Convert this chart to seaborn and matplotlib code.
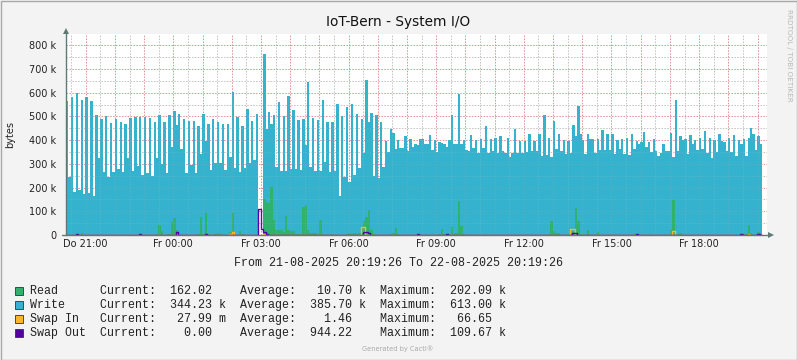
import numpy as np
import pandas as pd
import seaborn as sns
import matplotlib.pyplot as plt
from matplotlib.patches import Rectangle
from matplotlib.lines import Line2D

# 5 minute samples, first one at 21-08-2025 20:19:26, values in k bytes
write_k = [
    564, 246, 583, 183, 600, 190, 569, 175, 583, 178, 564, 166,
    505, 326, 489, 267, 500, 246, 473, 267, 489, 278, 476, 267,
    470, 326, 494, 271, 498, 292, 498, 254, 498, 262, 494, 248,
    476, 326, 505, 299, 476, 262, 505, 372, 524, 463, 510, 362,
    489, 262, 480, 295, 480, 262, 459, 342, 512, 396, 468, 274,
    489, 302, 476, 305, 468, 274, 468, 330, 602, 284, 498, 267,
    459, 284, 533, 302, 480, 316, 510, 262, np.nan, 765, 446, 519,
    470, 505, 288, 562, 271, 501, 271, 585, 278, 526, 280, 484,
    274, 489, 379, 646, 288, 494, 271, 484, 271, 569, 309, 476,
    267, 476, 271, 552, 166, 501, 246, 540, 225, 552, 253, 510,
    284, 490, 347, 653, 477, 515, 250, 505, 241, 476, 288, 397,
    351, 449, 430, 364, 400, 365, 365, 417, 354, 404, 372, 386,
    379, 404, 407, 383, 383, 421, 358, 400, 351, 393, 390, 386,
    372, 400, 505, 386, 383, 594, 386, 400, 358, 354, 424, 368,
    400, 344, 404, 369, 459, 347, 404, 354, 411, 344, 417, 354,
    348, 411, 330, 347, 449, 344, 396, 347, 396, 351, 425, 354,
    397, 354, 425, 333, 505, 337, 411, 330, 480, 362, 428, 354,
    400, 341, 397, 347, 463, 417, 543, 425, 400, 341, 428, 404,
    407, 347, 404, 358, 442, 358, 428, 358, 428, 341, 400, 362,
    407, 340, 411, 337, 428, 362, 396, 386, 393, 435, 372, 392,
    351, 403, 355, 334, 347, 383, 355, 354, 431, 330, 569, 354,
    417, 400, 403, 341, 421, 386, 400, 358, 411, 362, 438, 347,
    411, 323, 400, 350, 428, 396, 393, 355, 411, 351, 421, 333,
    400, 383, 407, 333, 411, 453, 428, 358, 417, 383, 428,
]
read_k = [
    0, 0, 0, 0, 0, 2, 10, 2, 0, 0, 0, 0,
    0, 0, 0, 0, 0, 0, 0, 0, 0, 0, 0, 0,
    0, 0, 0, 0, 0, 0, 3, 0, 0, 0, 0, 0,
    0, 3, 42, 15, 0, 0, 4, 55, 70, 20, 3, 0,
    0, 0, 0, 0, 0, 0, 4, 77, 3, 91, 4, 0,
    0, 4, 10, 6, 0, 0, 0, 12, 94, 4, 0, 17,
    3, 0, 0, 0, 0, 0, 0, 4, np.nan, 152, 140, 133,
    202, 63, 21, 21, 21, 14, 81, 20, 17, 17, 5, 3,
    5, 119, 126, 20, 10, 10, 10, 3, 63, 4, 0, 0,
    0, 3, 0, 0, 0, 0, 0, 5, 8, 6, 8, 6,
    8, 40, 60, 77, 105, 20, 4, 0, 0, 0, 0, 0,
    0, 3, 8, 31, 3, 0, 0, 0, 0, 0, 0, 0,
    0, 0, 0, 0, 0, 0, 0, 0, 0, 3, 24, 3,
    0, 3, 32, 4, 8, 143, 40, 5, 0, 0, 0, 0,
    0, 0, 0, 0, 0, 0, 0, 0, 0, 0, 0, 0,
    0, 0, 0, 0, 0, 0, 0, 0, 0, 0, 0, 0,
    0, 0, 0, 0, 0, 0, 4, 59, 15, 10, 10, 0,
    0, 0, 3, 8, 12, 112, 59, 4, 0, 0, 21, 0,
    0, 0, 13, 0, 0, 0, 0, 3, 0, 0, 0, 0,
    0, 0, 0, 0, 0, 3, 0, 0, 0, 0, 0, 0,
    0, 0, 0, 0, 0, 0, 0, 0, 20, 147, 6, 6,
    10, 0, 0, 0, 0, 0, 0, 0, 0, 0, 0, 0,
    0, 0, 0, 0, 0, 0, 0, 0, 0, 0, 0, 0,
    0, 0, 0, 4, 42, 8, 0, 0, 12, 0, 0,
]
swap_in_k = [
    0, 0, 0, 0, 0, 0, 0, 0, 0, 0, 0, 0,
    0, 0, 0, 0, 0, 0, 0, 0, 0, 0, 0, 0,
    0, 0, 0, 0, 0, 0, 0, 0, 0, 0, 0, 0,
    0, 0, 0, 0, 0, 0, 0, 0, 0, 6, 0, 0,
    0, 0, 0, 0, 0, 0, 0, 0, 0, 0, 0, 0,
    0, 0, 0, 0, 0, 0, 0, 5, 14, 0, 0, 0,
    0, 0, 0, 0, 0, 0, 0, 0, 0, 5, 0, 0,
    0, 0, 0, 0, 0, 0, 0, 0, 0, 0, 0, 0,
    0, 0, 0, 0, 0, 0, 0, 0, 0, 0, 0, 0,
    0, 0, 0, 0, 0, 0, 0, 0, 0, 0, 0, 0,
    0, 32, 32, 0, 0, 0, 0, 0, 0, 0, 0, 0,
    0, 0, 0, 0, 0, 0, 0, 0, 0, 0, 0, 0,
    0, 0, 0, 0, 0, 0, 0, 0, 0, 0, 0, 0,
    0, 0, 0, 0, 0, 0, 0, 0, 0, 0, 0, 0,
    0, 0, 0, 0, 0, 0, 0, 0, 0, 0, 0, 0,
    0, 0, 0, 0, 0, 0, 0, 0, 0, 0, 0, 0,
    0, 0, 0, 0, 0, 0, 0, 0, 0, 0, 0, 0,
    0, 0, 0, 25, 25, 0, 0, 0, 0, 0, 0, 0,
    0, 0, 0, 0, 0, 0, 0, 0, 0, 0, 0, 0,
    0, 0, 0, 0, 0, 0, 0, 0, 0, 0, 0, 0,
    0, 0, 0, 0, 0, 0, 0, 0, 0, 15, 0, 0,
    0, 0, 0, 0, 0, 0, 0, 0, 0, 0, 0, 0,
    0, 0, 0, 0, 0, 0, 0, 0, 0, 0, 0, 0,
    0, 0, 0, 0, 4, 0, 0, 0, 0, 0, 0,
]
swap_out_k = [
    0, 0, 0, 0, 4, 0, 0, 0, 0, 0, 0, 0,
    0, 0, 0, 0, 0, 0, 0, 0, 0, 0, 0, 0,
    0, 0, 0, 0, 0, 0, 4, 0, 0, 0, 0, 0,
    0, 0, 0, 0, 0, 0, 0, 0, 0, 14, 0, 0,
    0, 0, 0, 0, 0, 0, 0, 0, 0, 4, 0, 0,
    0, 0, 0, 0, 0, 0, 0, 0, 0, 0, 0, 0,
    0, 0, 0, 0, 0, 0, 0, 109, 24, 14, 3, 0,
    0, 0, 0, 0, 0, 0, 0, 0, 0, 0, 0, 0,
    0, 0, 0, 0, 0, 0, 0, 0, 0, 0, 0, 0,
    0, 0, 0, 0, 0, 0, 0, 0, 0, 0, 0, 0,
    0, 0, 14, 14, 8, 0, 0, 0, 0, 0, 0, 0,
    0, 0, 0, 0, 0, 0, 0, 0, 0, 0, 0, 0,
    4, 0, 0, 0, 0, 0, 0, 0, 0, 0, 0, 0,
    4, 0, 0, 0, 0, 0, 0, 0, 0, 0, 0, 0,
    0, 0, 0, 0, 0, 0, 0, 0, 0, 0, 0, 0,
    0, 0, 0, 0, 0, 0, 0, 0, 0, 0, 0, 0,
    0, 0, 0, 0, 0, 0, 0, 0, 0, 0, 0, 0,
    0, 0, 0, 0, 7, 7, 0, 0, 0, 0, 0, 0,
    0, 0, 0, 0, 0, 0, 0, 0, 0, 0, 0, 0,
    0, 0, 0, 0, 0, 0, 4, 0, 0, 0, 0, 0,
    0, 0, 0, 0, 0, 0, 0, 0, 0, 0, 0, 0,
    0, 0, 0, 0, 0, 0, 0, 0, 0, 0, 0, 0,
    0, 0, 0, 0, 0, 0, 0, 0, 0, 0, 0, 0,
    0, 4, 0, 0, 0, 0, 0, 0, 4, 0, 0,
]

tick_labels = ["Do 21:00", "Fr 00:00", "Fr 03:00", "Fr 06:00",
               "Fr 09:00", "Fr 12:00", "Fr 15:00", "Fr 18:00"]
first_tick_h = 40 / 60 + 34 / 3600   # 21:00 minus 20:19:26

legend_rows = [
    ("Read      Current:  162.02    Average:   10.70 k  Maximum:  202.09 k", "#2EB26E"),
    ("Write     Current:  344.23 k  Average:  385.70 k  Maximum:  613.00 k", "#35B3CE"),
    ("Swap In   Current:   27.99 m  Average:    1.46    Maximum:   66.65", "#FBB826"),
    ("Swap Out  Current:    0.00    Average:  944.22    Maximum:  109.67 k", "#5500A0"),
]

df = pd.DataFrame({
    "t": np.arange(len(write_k)) * 5 / 60,
    "write": np.array(write_k, dtype=float) * 1000,
    "read": np.array(read_k, dtype=float) * 1000,
    "swap_in": np.array(swap_in_k, dtype=float) * 1000,
    "swap_out": np.array(swap_out_k, dtype=float) * 1000,
})

sns.set_theme(style="white")
plt.rcParams["font.family"] = ["DejaVu Sans"]

W, H = 797, 360
fig = plt.figure(figsize=(W / 100, H / 100), dpi=100, facecolor="#F3F3F3")
ax = fig.add_axes([66 / W, 125 / H, 701 / W, 201 / H])
ax.set_facecolor("white")

ax.fill_between(df["t"], df["write"], step="post", color="#35B3CE", lw=0, zorder=2)
ax.fill_between(df["t"], df["read"], step="post", color="#2EB26E", lw=0, zorder=3)
sns.lineplot(data=df, x="t", y="swap_in", ax=ax, color="#FBB826", lw=1,
             drawstyle="steps-post", estimator=None, zorder=4)
sns.lineplot(data=df, x="t", y="swap_out", ax=ax, color="#5500A0", lw=1,
             drawstyle="steps-post", estimator=None, zorder=5)

ax.set_xlim(0, 24)
ax.set_ylim(0, 848000)

# grid: clear on the white background, faint over the areas
dash = (0, (1.5, 1.5))
grid_v_minor = [first_tick_h - 0.5 + k for k in range(24)]
grid_v_major = [first_tick_h + k for k in range(24)]
grid_h_minor = list(range(50000, 848000, 100000))
grid_h_major = list(range(100000, 848000, 100000))
for z, a in ((1, 1.0), (6, 0.18)):
    for x in grid_v_minor:
        ax.axvline(x, color="#C4C4C4", lw=0.7, ls=dash, zorder=z, alpha=a)
    for v in grid_h_minor:
        ax.axhline(v, color="#C4C4C4", lw=0.7, ls=dash, zorder=z, alpha=a)
    for x in grid_v_major:
        ax.axvline(x, color="#E39393", lw=0.7, ls=dash, zorder=z, alpha=a)
    for v in grid_h_major:
        ax.axhline(v, color="#E39393", lw=0.7, ls=dash, zorder=z, alpha=a)

yt = list(range(0, 800001, 100000))
ax.set_yticks(yt)
ax.set_yticklabels(["0" if v == 0 else f"{v // 1000} k" for v in yt])
ax.set_xticks([first_tick_h + 3 * i for i in range(len(tick_labels))])
ax.set_xticklabels(tick_labels)
ax.tick_params(axis="both", length=0, labelsize=7, colors="#222222")
ax.tick_params(axis="y", pad=7)
ax.tick_params(axis="x", pad=3)
ax.set_xlabel("")
ax.set_ylabel("")
for s in ax.spines.values():
    s.set_visible(False)

# axes with arrow heads
axc = "#5F7A74"
fig.add_artist(Line2D([66 / W, 66 / W], [125 / H, 1 - 31 / H], color=axc, lw=1))
fig.add_artist(Line2D([62 / W, 770 / W], [125 / H, 125 / H], color=axc, lw=1))
fig.add_artist(Line2D([66 / W], [1 - 31 / H], marker="^", ms=4, color=axc, mew=0))
fig.add_artist(Line2D([771 / W], [125 / H], marker=">", ms=4, color=axc, mew=0))

fig.text(0.5, 1 - 22 / H, "IoT-Bern - System I/O", ha="center", va="center",
         fontsize=9.8, color="#111111")
fig.text(10 / W, 1 - 135 / H, "bytes", rotation=90, ha="center", va="center",
         fontsize=7, color="#222222")
fig.text(789 / W, 1 - 55 / H, "RRDTOOL / TOBI OETIKER", rotation=270,
         ha="center", va="center", fontsize=5.2, color="#B8B8B8")

mono = "Liberation Mono"
fig.text(398.5 / W, 1 - 263 / H, "From 21-08-2025 20:19:26 To 22-08-2025 20:19:26",
         ha="center", va="center", family=mono, fontsize=8.4, color="#222222")
for i, (txt, col) in enumerate(legend_rows):
    y = 291 + 14 * i
    fig.add_artist(Rectangle((15 / W, 1 - (y + 4) / H), 8 / W, 8 / H,
                             facecolor=col, edgecolor="#333333", lw=0.6))
    fig.text(30 / W, 1 - y / H, txt, ha="left", va="center", family=mono,
             fontsize=8.4, color="#222222")

fig.text(398 / W, 1 - 349 / H, "Generated by Cacti\u00ae", ha="center", va="center",
         fontsize=4.8, color="#AAAAAA")

fig.add_artist(Rectangle((0.5 / W, 0.5 / H), 1 - 1 / W, 1 - 1 / H, fill=False,
                         edgecolor="#A8A8A8", lw=1))

fig.savefig("out.png", dpi=100, facecolor=fig.get_facecolor())
